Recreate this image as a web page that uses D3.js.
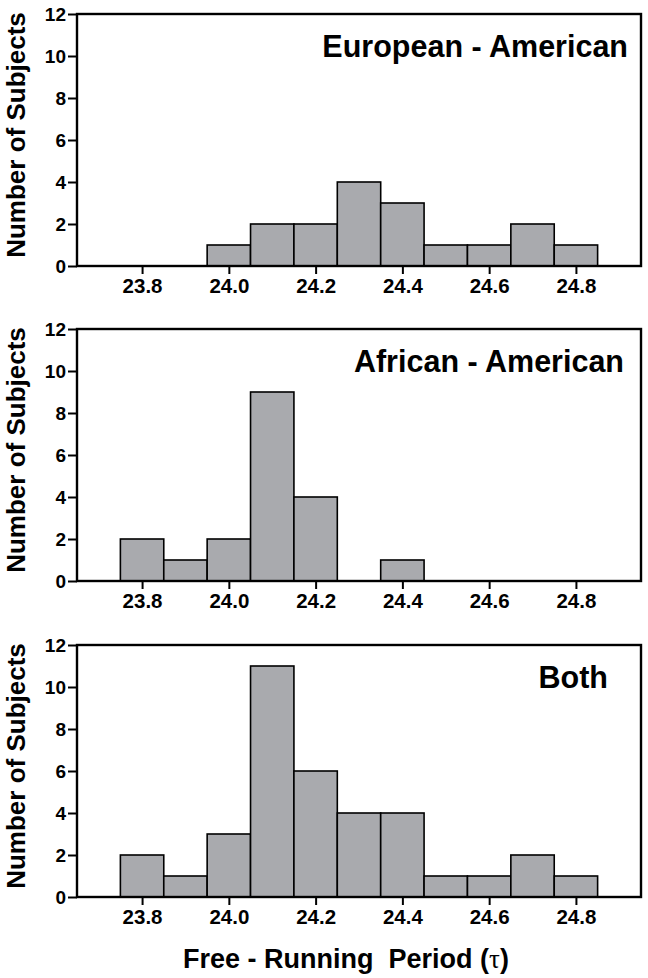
<!DOCTYPE html>
<html>
<head>
<meta charset="utf-8">
<script src="https://cdn.jsdelivr.net/npm/d3@7"></script>
<style>
  html, body { margin: 0; padding: 0; background: #fff; }
  svg { display: block; }
  text { font-family: "Liberation Sans", Arial, Helvetica, sans-serif; font-weight: bold; fill: #000; }
</style>
</head>
<body>
<svg id="chart" width="648" height="978"></svg>
<script>
// ---- data ----
const binCenters = [23.8, 23.9, 24.0, 24.1, 24.2, 24.3, 24.4, 24.5, 24.6, 24.7, 24.8];
const europeanAmerican = [0, 0, 1, 2, 2, 4, 3, 1, 1, 2, 1];
const africanAmerican  = [2, 1, 2, 9, 4, 0, 1, 0, 0, 0, 0];
const bothGroups       = [2, 1, 3, 11, 6, 4, 4, 1, 1, 2, 1];
const panelTitles = ["European - American", "African - American", "Both"];
const xTickValues = [23.8, 24.0, 24.2, 24.4, 24.6, 24.8];
const yTickValues = [0, 2, 4, 6, 8, 10, 12];
const binWidth = 0.1;
const yAxisLabel = "Number of Subjects";
const xAxisLabel = "Free - Running  Period (";

// ---- layout ----
const svg = d3.select("#chart");
const left = 77, right = 641, plotH = 252;
const panelTops = [14, 329, 645];
const titleRight = [628, 624, 608];
const series = [europeanAmerican, africanAmerican, bothGroups];

const x = d3.scaleLinear().domain([23.65, 24.95]).range([left, right]);

series.forEach((vals, i) => {
  const top = panelTops[i];
  const y = d3.scaleLinear().domain([0, 12]).range([top + plotH, top]);
  const g = svg.append("g");

  // bars
  const data = binCenters.map((c, k) => ({c, v: vals[k]})).filter(d => d.v > 0);
  g.selectAll("rect.bar").data(data).join("rect")
    .attr("class", "bar")
    .attr("x", d => x(d.c - binWidth / 2))
    .attr("width", d => x(d.c + binWidth / 2) - x(d.c - binWidth / 2))
    .attr("y", d => y(d.v))
    .attr("height", d => y(0) - y(d.v))
    .attr("fill", "#a9aaae")
    .attr("stroke", "#000")
    .attr("stroke-width", 1.6);

  // frame
  g.append("rect")
    .attr("x", left).attr("y", top)
    .attr("width", right - left).attr("height", plotH)
    .attr("fill", "none").attr("stroke", "#000").attr("stroke-width", 2.4);

  // y axis
  const ya = g.append("g").attr("transform", `translate(${left},0)`)
    .call(d3.axisLeft(y).tickValues(yTickValues).tickSize(9).tickPadding(2).tickFormat(d3.format("d")));
  ya.select(".domain").remove();
  ya.selectAll(".tick line").attr("stroke", "#000").attr("stroke-width", 2);
  ya.selectAll(".tick text").style("font-size", "19px").style("font-family", "Liberation Sans, Arial, sans-serif").style("font-weight", "bold").attr("fill", "#000");

  // x axis
  const xa = g.append("g").attr("transform", `translate(0,${top + plotH})`)
    .call(d3.axisBottom(x).tickValues(xTickValues).tickSize(8).tickPadding(4).tickFormat(d3.format(".1f")));
  xa.select(".domain").remove();
  xa.selectAll(".tick line").attr("stroke", "#000").attr("stroke-width", 2);
  xa.selectAll(".tick text").style("font-size", "20.5px").style("font-family", "Liberation Sans, Arial, sans-serif").style("font-weight", "bold").attr("fill", "#000");

  // y label
  g.append("text")
    .attr("transform", `translate(25,${top + 121}) rotate(-90)`)
    .attr("text-anchor", "middle")
    .style("font-size", "26px")
    .text(yAxisLabel);

  // panel title
  g.append("text")
    .attr("x", titleRight[i]).attr("y", top + 43)
    .attr("text-anchor", "end")
    .style("font-size", "30.5px")
    .text(panelTitles[i]);
});

// x axis title
const xt = svg.append("text")
  .attr("x", 183).attr("y", 968)
  .attr("text-anchor", "start")
  .attr("xml:space", "preserve")
  .style("font-size", "27px")
  .style("white-space", "pre");
xt.append("tspan").text(xAxisLabel);
xt.append("tspan").style("font-family", "'Liberation Serif', 'DejaVu Serif', serif").style("font-weight", "normal").text("\u03C4");
xt.append("tspan").text(")");
</script>
</body>
</html>
